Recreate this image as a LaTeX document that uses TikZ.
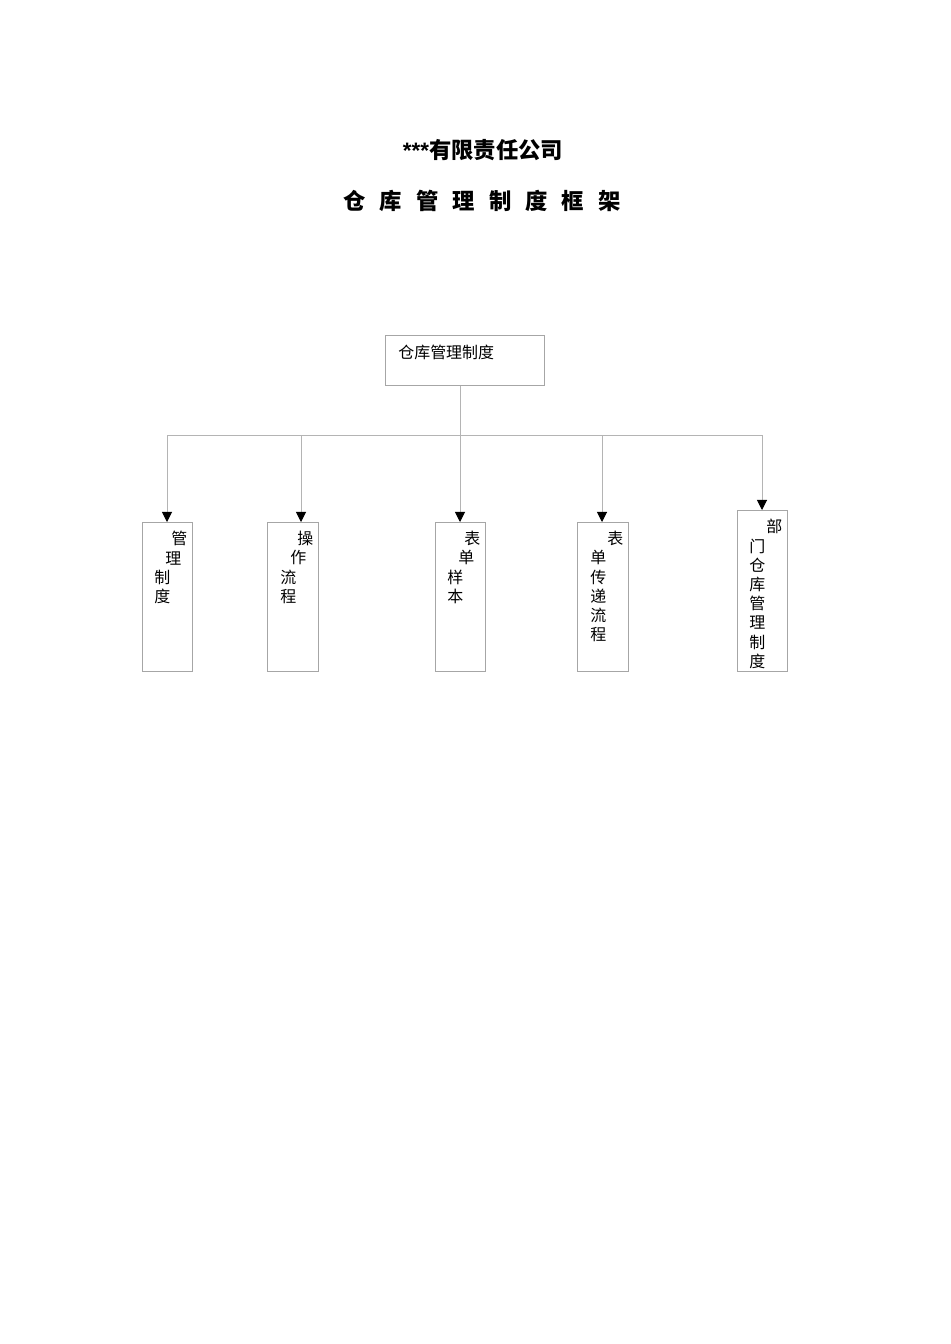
\documentclass[tikz,border=0pt]{standalone}
\usepackage{fontspec}
\usepackage{xcolor}
\setmainfont{Liberation Sans}
\newfontfamily\cjk{Noto Sans CJK SC}
\usetikzlibrary{arrows.meta,positioning}
\definecolor{boxgray}{HTML}{A6A6A6}
\definecolor{linegray}{HTML}{B4B4B4}
\newlength{\px}
\setlength{\px}{0.6264pt}
\newcommand{\tgap}{\hspace{0.63em}}

\tikzset{
  framebox/.style={draw=boxgray, line width=0.6pt, inner sep=0pt, anchor=north west},
  colbox/.style={framebox, minimum width=31.3pt, minimum height=93.3pt},
  boxtext/.style={font=\cjk\fontsize{10}{12.05}\selectfont, align=left, inner sep=0pt, anchor=north west, xshift=12\px, yshift=-9\px},
  conn/.style={draw=linegray, line width=0.6pt},
  drop/.style={conn, -{Triangle[length=6.3pt, width=6.3pt, black]}},
  heading/.style={font=\bfseries\fontsize{14}{16}\selectfont, inner sep=0pt},
}

\begin{document}
\begin{tikzpicture}[x=0.6264pt, y=-0.6264pt]
\useasboundingbox[fill=white] (0,0) rectangle (950,1344);

% titles
\node[heading] (company) at (483,150) {***{\cjk 有限责任公司}};
\node[heading, font=\cjk\bfseries\fontsize{14}{16}\selectfont] (frame) at (482,201)
  {仓\tgap 库\tgap 管\tgap 理\tgap 制\tgap 度\tgap 框\tgap 架};

% root box
\node[framebox, minimum width=99.6pt, minimum height=31.3pt,
  label={[boxtext, xshift=1\px, yshift=-1\px]north west:仓库管理制度}] (root) at (385,335) {};

% child boxes
\node[colbox, label={[boxtext]north west:{\hspace*{17\px}管\\\hspace*{11\px}理\\制\\度}}] (rules) at (142,522) {};
\node[colbox, minimum width=31.9pt, label={[boxtext, xshift=1\px]north west:{\hspace*{17\px}操\\\hspace*{10\px}作\\流\\程}}] (ops) at (267,522) {};
\node[colbox, label={[boxtext]north west:{\hspace*{17\px}表\\\hspace*{11\px}单\\样\\本}}] (forms) at (435,522) {};
\node[colbox, minimum width=31.9pt, label={[boxtext, xshift=1\px]north west:{\hspace*{17\px}表\\单\\传\\递\\流\\程}}] (flow) at (577,522) {};
\node[colbox, minimum height=100.9pt, label={[boxtext]north west:{\hspace*{17\px}部\\门\\仓\\库\\管\\理\\制\\度}}] (dept) at (737,510) {};

% connectors
\coordinate (d1) at (167,435);
\coordinate (d2) at (301,435);
\coordinate (d3) at (460,435);
\coordinate (d4) at (602,435);
\coordinate (d5) at (762,435);
\draw[conn] (d3 |- root.south) -- (d3);
\draw[conn] (d1) -- (d5);
\draw[drop] (d1) -- (d1 |- rules.north);
\draw[drop] (d2) -- (d2 |- ops.north);
\draw[drop] (d3) -- (d3 |- forms.north);
\draw[drop] (d4) -- (d4 |- flow.north);
\draw[drop] (d5) -- (d5 |- dept.north);
\end{tikzpicture}
\end{document}
